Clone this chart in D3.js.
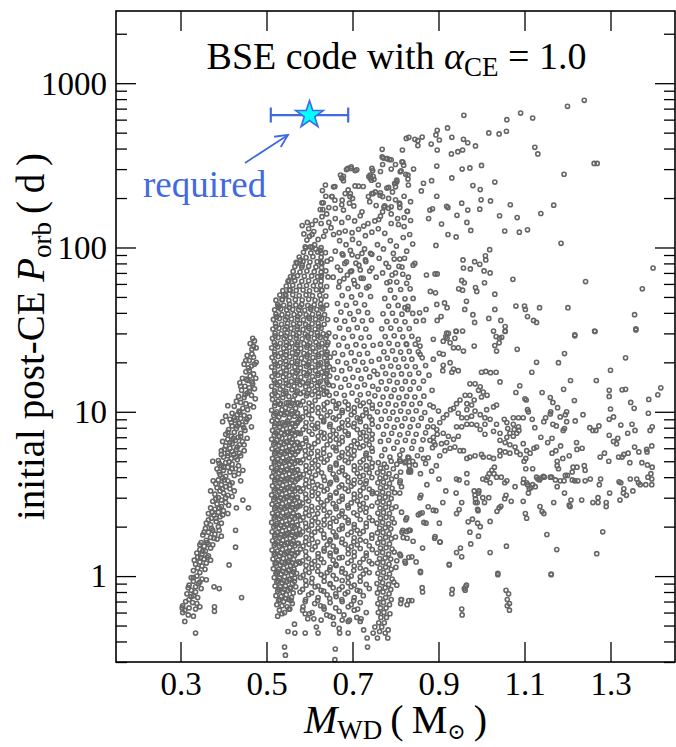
<!DOCTYPE html>
<html>
<head>
<meta charset="utf-8">
<script src="https://cdn.jsdelivr.net/npm/d3@7"></script>
<style>
  body { margin: 0; background: #fff; }
  text { font-family: "Liberation Serif", "DejaVu Serif", serif; }
</style>
</head>
<body>
<svg id="chart" width="676" height="747"></svg>
<script>
// [WD mass (Msun), initial post-CE orbital period (d)], region by region

// He-core white dwarfs, the narrow diagonal band on the left
const heBand = [
  [.468,28],[.472,27],[.462,26],[.476,24.5],[.466,24],
  [.455,22],[.470,21.5],[.460,20.5],[.476,20],[.448,19.5],[.465,19],[.458,18.5],
  [.452,17.5],[.470,17],[.462,16.5],[.444,16],[.475,16],[.456,15.5],[.466,15.2],[.438,15],
  [.450,14.3],[.460,14],[.472,13.8],[.442,13.5],[.455,13],[.465,12.6],[.435,12.4],[.448,12.2],[.474,12],
  [.430,11.6],[.440,11.4],[.452,11.2],[.462,11],[.470,10.7],[.425,10.8],[.445,10.5],[.456,10.3],[.410,10.9],[.436,10.1],
  [.420,9.8],[.432,9.6],[.448,9.5],[.460,9.3],[.440,9.1],[.415,9.0],[.427,8.9],[.452,8.7],[.398,8.7],[.436,8.5],[.444,8.3],[.420,8.2],[.465,8.1],
  [.430,7.9],[.412,7.8],[.450,7.7],[.425,7.5],[.440,7.4],[.405,7.3],[.418,7.1],[.434,7.0],[.455,6.9],[.410,6.8],[.428,6.7],[.444,6.6],[.398,6.6],
  [.420,6.4],[.437,6.3],[.405,6.2],[.415,6.0],[.430,5.9],[.448,5.8],[.395,5.8],[.410,5.6],[.424,5.5],[.440,5.4],[.400,5.3],[.418,5.2],[.432,5.1],[.388,5.05],
  [.405,4.9],[.420,4.8],[.395,4.7],[.410,4.6],[.428,4.5],[.385,4.5],[.400,4.4],[.415,4.3],[.435,4.2],[.392,4.15],[.405,4.05],[.375,5.0],[.445,4.4],
  [.398,3.95],[.388,3.85],[.410,3.8],[.376,3.8],[.420,3.7],[.395,3.6],[.405,3.5],[.385,3.45],[.415,3.4],[.440,3.8],[.392,3.3],[.400,3.2],[.380,3.15],[.410,3.1],[.388,3.0],[.420,3.05],
  [.395,2.9],[.375,2.85],[.405,2.8],[.385,2.75],[.395,2.65],[.370,2.6],[.380,2.55],[.400,2.5],[.388,2.45],[.365,2.4],[.378,2.35],[.392,2.3],[.372,2.25],[.458,2.6],[.445,2.9],[.430,2.6],[.410,2.4],
  [.383,2.15],[.360,2.1],[.370,2.05],[.388,2.0],[.358,1.95],[.375,1.9],[.365,1.85],[.380,1.8],[.352,1.78],[.370,1.72],[.360,1.65],[.385,1.68],[.348,1.6],[.365,1.56],[.355,1.52],[.428,1.9],[.428,1.5],[.395,1.75],
  [.370,1.48],[.345,1.45],[.358,1.42],[.350,1.36],[.365,1.33],[.340,1.3],[.355,1.27],[.345,1.22],[.360,1.2],[.335,1.18],[.350,1.15],[.340,1.12],[.357,1.1],[.413,1.17],[.370,1.25],
  [.330,1.08],[.345,1.05],[.338,1.0],[.325,0.98],[.350,0.96],[.330,0.93],[.342,0.9],[.320,0.88],[.335,0.86],[.348,0.84],[.325,0.82],[.378,0.86],[.390,0.84],[.360,0.95],
  [.315,0.78],[.330,0.76],[.340,0.74],[.320,0.72],[.312,0.7],[.328,0.69],[.338,0.68],[.305,0.66],[.320,0.64],[.335,0.63],[.310,0.62],[.345,0.65],[.305,0.6],[.318,0.58],[.330,0.57],[.310,0.53],[.335,0.45],[.379,0.61],[.442,0.74],[.379,0.65],[.304,0.64],
  [.405,9.4],[.438,9.9],[.455,9.0],[.425,9.2],[.418,8.6],[.447,8.0],[.432,8.2],[.410,7.5],[.440,7.1],[.423,6.9],[.448,6.3],[.415,6.5],[.432,6.1],[.402,5.9],[.420,5.75],[.437,5.6],[.395,5.5],[.410,5.4],[.428,5.3],
  [.390,4.85],[.413,4.95],[.435,4.7],[.400,4.6],[.420,4.5],[.390,4.3],[.425,4.1],[.402,3.85],[.382,3.65],[.415,3.6],[.398,3.4],[.425,3.3],[.370,3.3],[.405,3.0],[.382,2.95],[.412,2.7],[.390,2.6],
  [.374,2.45],[.398,2.35],[.382,2.25],[.365,2.2],[.395,2.1],[.372,1.95],[.390,1.9],[.355,1.85],[.378,1.7],[.362,1.6],[.345,1.55],[.375,1.55],[.352,1.42],[.338,1.38],[.362,1.3],[.347,1.3],[.332,1.25],
  [.450,12.7],[.460,13.3],[.440,14.3],[.468,14.8],[.453,15.8],[.460,17.8],[.472,19.5],[.452,20.5],[.466,22.5],[.470,25],[.325,0.75],[.335,0.8],[.318,0.85],[.345,0.92],[.330,0.98]
];

// the solid stripe at the left edge of the CO white dwarfs
const coreLeft = [
  [.514,11.9],[.527,11.6],[.538,12.2],[.551,11.4],[.562,11.8],[.574,11.3],
  [.519,10.9],[.531,11.1],[.544,10.6],[.556,10.9],[.568,10.5],
  [.512,10.2],[.524,10.0],[.536,10.3],[.548,9.9],[.559,10.1],[.572,9.8],
  [.517,9.5],[.529,9.3],[.541,9.6],[.553,9.2],[.565,9.4],[.577,9.1],
  [.513,8.8],[.525,8.9],[.537,8.6],[.549,8.8],[.561,8.5],[.573,8.7],
  [.519,8.2],[.531,8.1],[.543,8.3],[.555,8.0],[.567,8.2],
  [.514,7.7],[.526,7.6],[.538,7.8],[.550,7.5],[.562,7.7],[.575,7.4],
  [.518,7.2],[.530,7.1],[.542,7.3],[.554,7.0],[.566,7.2],
  [.512,6.8],[.524,6.7],[.536,6.9],[.548,6.6],[.560,6.8],[.572,6.5],
  [.517,6.35],[.529,6.25],[.541,6.4],[.553,6.2],[.565,6.3],[.577,6.1],
  [.513,5.95],[.525,5.85],[.537,6.0],[.549,5.8],[.561,5.9],[.573,5.75],
  [.519,5.55],[.531,5.5],[.543,5.6],[.555,5.45],[.567,5.52],
  [.514,5.2],[.526,5.15],[.538,5.25],[.550,5.1],[.562,5.2],[.574,5.05],
  [.518,4.88],[.530,4.82],[.542,4.92],[.554,4.78],[.566,4.86],
  [.512,4.58],[.524,4.52],[.536,4.62],[.548,4.48],[.560,4.56],[.572,4.45],
  [.517,4.3],[.529,4.24],[.541,4.33],[.553,4.2],[.565,4.28],[.577,4.17],
  [.513,4.03],[.525,3.97],[.537,4.06],[.549,3.94],[.561,4.01],[.573,3.91],
  [.519,3.78],[.531,3.73],[.543,3.81],[.555,3.7],[.567,3.76],
  [.514,3.54],[.526,3.5],[.538,3.57],[.550,3.47],[.562,3.53],[.574,3.44],
  [.518,3.32],[.530,3.28],[.542,3.35],[.554,3.26],[.566,3.3],
  [.512,3.12],[.524,3.08],[.536,3.14],[.548,3.05],[.560,3.1],[.572,3.02],
  [.517,2.92],[.529,2.88],[.541,2.95],[.553,2.86],[.565,2.9],[.577,2.83],
  [.513,2.74],[.525,2.7],[.537,2.76],[.549,2.68],[.561,2.72],[.573,2.66],
  [.519,2.57],[.531,2.54],[.543,2.59],[.555,2.52],[.567,2.56],
  [.514,2.41],[.526,2.38],[.538,2.43],[.550,2.36],[.562,2.4],[.574,2.34],
  [.518,2.26],[.530,2.23],[.542,2.28],[.554,2.21],[.566,2.25],
  [.512,2.12],[.524,2.09],[.536,2.14],[.548,2.07],[.560,2.11],[.572,2.05],
  [.517,1.99],[.529,1.96],[.541,2.0],[.553,1.94],[.565,1.98],[.577,1.92],
  [.513,1.86],[.525,1.84],[.537,1.88],[.549,1.82],[.561,1.85],[.573,1.8],
  [.519,1.75],[.531,1.72],[.543,1.76],[.555,1.7],[.567,1.74],
  [.514,1.64],[.526,1.62],[.538,1.65],[.550,1.6],[.562,1.63],[.574,1.58],
  [.518,1.54],[.530,1.52],[.542,1.55],[.554,1.5],[.566,1.53],
  [.513,1.44],[.525,1.42],[.537,1.45],[.549,1.41],[.561,1.43],[.573,1.39],
  [.518,1.35],[.530,1.33],[.542,1.36],[.554,1.32],[.566,1.34],
  [.515,1.27],[.527,1.25],[.539,1.28],[.551,1.24],[.563,1.26],[.575,1.22],
  [.520,1.19],[.532,1.17],[.544,1.2],[.556,1.16],[.568,1.18],
  [.516,1.11],[.528,1.1],[.540,1.12],[.552,1.09],[.564,1.1],
  [.522,1.04],[.534,1.03],[.546,1.05],[.558,1.02],[.570,1.04],
  [.518,0.98],[.530,0.97],[.542,0.99],[.554,0.96],[.566,0.97],
  [.524,0.92],[.536,0.91],[.548,0.93],[.560,0.9],
  [.520,0.87],[.532,0.86],[.544,0.87],[.556,0.85],[.568,0.86],
  [.526,0.81],[.538,0.8],[.550,0.82],[.562,0.79],
  [.522,0.76],[.534,0.75],[.546,0.77],[.558,0.74],
  [.528,0.71],[.540,0.7],[.552,0.72],
  [.524,0.67],[.536,0.66],[.548,0.65],[.560,0.68],
  [.530,0.62],[.542,0.6],[.526,0.57],[.554,0.63],
  [.520,11.3],[.533,11.2],[.546,11.35],[.559,11.25],[.571,11.3],
  [.521,9.75],[.534,9.7],[.547,9.8],[.560,9.72],[.572,9.78],
  [.520,8.5],[.533,8.45],[.546,8.55],[.559,8.48],[.571,8.52],
  [.521,7.45],[.534,7.42],[.547,7.5],[.560,7.43],[.572,7.47],
  [.520,6.5],[.533,6.48],[.546,6.54],[.559,6.47],[.571,6.51],
  [.521,5.7],[.534,5.68],[.547,5.73],[.560,5.67],[.572,5.71],
  [.520,5.0],[.533,4.98],[.546,5.02],[.559,4.97],[.571,5.01],
  [.521,4.4],[.534,4.38],[.547,4.42],[.560,4.37],[.572,4.41],
  [.520,3.88],[.533,3.86],[.546,3.9],[.559,3.85],[.571,3.89],
  [.521,3.4],[.534,3.39],[.547,3.42],[.560,3.38],[.572,3.41],
  [.520,3.0],[.533,2.99],[.546,3.01],[.559,2.98],[.571,3.0],
  [.521,2.63],[.534,2.62],[.547,2.64],[.560,2.61],[.572,2.63],
  [.520,2.32],[.533,2.31],[.546,2.33],[.559,2.3],[.571,2.32],
  [.521,2.04],[.534,2.03],[.547,2.05],[.560,2.02],[.572,2.04],
  [.520,1.79],[.533,1.78],[.546,1.8],[.559,1.78],[.571,1.79],
  [.521,1.58],[.534,1.57],[.547,1.59],[.560,1.57],[.572,1.58],
  [.520,1.38],[.533,1.38],[.546,1.39],[.559,1.37],[.571,1.38],
  [.523,1.21],[.536,1.21],[.549,1.22],[.561,1.2],
  [.525,1.07],[.538,1.07],[.551,1.08],[.563,1.06],
  [.527,0.94],[.540,0.94],[.553,0.95],[.565,0.93],
  [.529,0.83],[.542,0.83],[.555,0.84],
  [.531,0.72],[.545,0.73],[.557,0.71]
];

// dense upper part of the CO region, 12 to 100 d
const coreUpper = [
  [.513,12.7],[.526,12.5],[.539,12.8],[.552,12.4],[.566,12.6],[.579,12.9],[.593,12.5],[.606,12.7],[.621,12.4],[.634,12.8],[.646,12.6],
  [.519,13.4],[.532,13.7],[.545,13.3],[.559,13.6],[.572,13.4],[.586,13.2],[.599,13.6],[.613,13.4],[.627,13.7],[.640,13.3],
  [.512,14.3],[.525,14.6],[.538,14.2],[.551,14.5],[.564,14.3],[.578,14.6],[.591,14.2],[.605,14.5],[.618,14.4],[.632,14.1],[.645,14.6],
  [.518,15.5],[.531,15.2],[.545,15.6],[.558,15.3],[.571,15.5],[.584,15.1],[.598,15.4],[.611,15.6],[.625,15.3],[.639,15.5],
  [.513,16.4],[.526,16.7],[.539,16.3],[.553,16.6],[.566,16.4],[.580,16.2],[.593,16.6],[.607,16.4],[.620,16.7],[.634,16.3],[.647,16.5],
  [.519,17.7],[.533,17.4],[.546,17.8],[.560,17.5],[.573,17.7],[.587,17.3],[.600,17.6],[.614,17.8],[.628,17.4],[.641,17.7],
  [.512,18.7],[.526,19.0],[.539,18.6],[.552,18.9],[.566,18.7],[.579,18.5],[.593,18.9],[.606,18.7],[.620,19.0],[.633,18.6],[.646,18.8],
  [.518,20.2],[.532,19.9],[.545,20.3],[.559,20.0],[.572,20.2],[.586,19.8],[.599,20.1],[.613,20.3],[.626,19.9],[.640,20.2],
  [.513,21.4],[.527,21.7],[.540,21.3],[.554,21.6],[.567,21.4],[.581,21.2],[.594,21.6],[.608,21.4],[.621,21.7],[.635,21.3],[.648,21.5],
  [.519,23.1],[.533,22.8],[.546,23.2],[.560,22.9],[.573,23.1],[.587,22.7],[.601,23.0],[.614,23.2],[.628,22.8],[.641,23.1],
  [.512,24.5],[.526,24.8],[.540,24.4],[.553,24.7],[.567,24.5],[.580,24.3],[.594,24.7],[.608,24.5],[.622,24.8],[.636,24.4],
  [.518,26.4],[.532,26.1],[.546,26.5],[.559,26.2],[.573,26.4],[.587,26.0],[.601,26.3],[.615,26.5],[.629,26.1],[.643,26.4],
  [.514,28.0],[.527,28.3],[.541,27.9],[.555,28.2],[.569,28.0],[.583,27.8],[.597,28.2],[.611,28.0],[.625,28.3],[.638,27.9],
  [.520,30.1],[.534,29.8],[.548,30.2],[.562,29.9],[.576,30.1],[.590,29.7],[.604,30.0],[.618,30.2],[.632,29.8],[.645,30.1],
  [.515,31.9],[.529,32.2],[.543,31.8],[.557,32.1],[.571,31.9],[.585,31.7],[.599,32.1],[.613,31.9],[.627,32.2],
  [.521,34.4],[.535,34.1],[.549,34.5],[.563,34.2],[.577,34.4],[.591,34.0],[.606,34.3],[.620,34.5],[.634,34.1],
  [.516,36.5],[.530,36.9],[.544,36.4],[.558,36.7],[.572,36.5],[.586,36.3],[.600,36.8],[.614,36.6],[.628,36.9],[.642,36.4],
  [.522,39.3],[.536,39.0],[.550,39.5],[.564,39.1],[.578,39.4],[.592,38.9],[.607,39.2],[.621,39.5],[.635,39.0],
  [.519,41.8],[.533,42.2],[.547,41.7],[.561,42.0],[.575,41.8],[.589,41.5],[.603,42.1],[.617,41.9],[.631,42.3],
  [.526,44.9],[.540,44.5],[.554,45.1],[.568,44.7],[.582,45.0],[.596,44.4],[.611,44.8],[.626,45.1],[.640,44.6],
  [.522,47.8],[.537,48.3],[.552,47.6],[.567,48.1],[.583,47.9],[.598,48.4],[.613,47.7],[.627,48.2],
  [.531,51.3],[.545,50.8],[.561,51.5],[.576,51.0],[.592,51.4],[.607,50.9],[.624,51.2],[.638,50.6],
  [.538,54.6],[.553,55.2],[.569,54.8],[.585,55.1],[.600,54.5],[.616,55.3],[.628,54.9],
  [.546,58.3],[.561,58.9],[.577,58.2],[.593,58.7],[.609,58.4],[.626,58.8],[.640,57.9],
  [.550,62.1],[.566,62.9],[.582,62.3],[.598,62.7],[.614,62.0],[.627,62.6],
  [.556,66.5],[.572,67.3],[.588,66.8],[.605,67.1],[.619,66.4],[.628,67.5],[.643,66.2],
  [.562,71.5],[.578,70.9],[.594,71.8],[.611,71.2],[.627,70.7],[.638,72.0],
  [.566,76.5],[.582,75.8],[.598,76.9],[.615,76.2],[.628,75.5],
  [.569,81.2],[.585,82.3],[.601,81.6],[.618,82.0],[.627,81.1],[.641,82.5],
  [.576,87.5],[.592,86.8],[.608,87.9],[.627,87.2],
  [.586,93.5],[.603,92.6],[.619,93.8],[.628,92.1],[.637,93.0],
  [.591,99.2],[.606,100.5],[.627,99.8],[.612,104],
  [.520,13.0],[.545,12.95],[.570,13.05],[.595,12.9],[.620,13.0],[.640,13.1],
  [.521,15.0],[.546,14.9],[.571,15.1],[.596,14.95],[.621,15.0],[.641,15.05],
  [.520,17.1],[.545,17.0],[.570,17.2],[.595,17.05],[.620,17.1],[.640,17.15],
  [.521,19.5],[.546,19.4],[.571,19.6],[.596,19.45],[.621,19.5],[.641,19.55],
  [.520,22.3],[.545,22.2],[.570,22.4],[.595,22.25],[.620,22.3],[.640,22.35],
  [.521,25.5],[.546,25.4],[.571,25.6],[.596,25.45],[.621,25.5],[.641,25.55],
  [.520,29.0],[.545,28.9],[.570,29.1],[.595,28.95],[.620,29.0],[.640,29.1],
  [.522,33.0],[.547,32.9],[.572,33.1],[.597,32.95],[.622,33.0],
  [.523,37.8],[.548,37.7],[.573,37.9],[.598,37.75],[.623,37.8],
  [.528,43.3],[.553,43.2],[.578,43.4],[.603,43.25],[.628,43.3]
];

// middle of the CO region below 12 d
const coreMid = [
  [.585,11.6],[.599,11.3],[.613,11.7],[.641,11.4],[.655,11.6],[.668,11.2],[.683,11.5],[.711,11.7],[.725,11.3],[.739,11.5],
  [.591,10.5],[.606,10.2],[.620,10.6],[.634,10.3],[.662,10.5],[.676,10.2],[.690,10.4],[.704,10.6],[.731,10.3],[.746,10.5],
  [.584,9.3],[.598,9.6],[.627,9.3],[.641,9.5],[.655,9.2],[.669,9.4],[.697,9.6],[.711,9.2],[.724,9.5],[.740,9.3],
  [.592,8.6],[.606,8.3],[.619,8.5],[.633,8.7],[.648,8.4],[.676,8.6],[.690,8.3],[.704,8.5],[.718,8.7],[.746,8.4],
  [.585,7.8],[.599,7.6],[.613,7.9],[.627,7.5],[.655,7.7],[.669,7.9],[.683,7.6],[.711,7.8],[.725,7.5],[.739,7.7],
  [.591,6.9],[.620,7.1],[.634,6.9],[.648,7.2],[.662,6.8],[.676,7.0],[.690,7.2],[.718,6.9],[.732,7.1],[.745,6.8],
  [.584,6.4],[.598,6.2],[.612,6.4],[.641,6.3],[.655,6.1],[.669,6.4],[.697,6.2],[.711,6.4],[.725,6.2],[.739,6.3],
  [.590,5.8],[.604,5.6],[.619,5.75],[.633,5.6],[.662,5.8],[.676,5.65],[.690,5.55],[.704,5.8],[.732,5.6],[.746,5.75],
  [.585,5.1],[.599,5.25],[.613,5.05],[.627,5.2],[.641,5.1],[.669,5.25],[.683,5.05],[.697,5.2],[.725,5.1],[.740,5.2],
  [.592,4.7],[.606,4.55],[.620,4.72],[.648,4.6],[.662,4.75],[.676,4.58],[.704,4.68],[.718,4.55],[.732,4.7],[.745,4.6],
  [.586,4.15],[.600,4.28],[.614,4.12],[.628,4.25],[.655,4.18],[.669,4.3],[.683,4.12],[.711,4.22],[.725,4.1],[.739,4.26],
  [.592,3.85],[.607,3.74],[.635,3.82],[.649,3.72],[.663,3.86],[.690,3.76],[.704,3.84],[.718,3.72],[.732,3.8],
  [.585,3.4],[.599,3.5],[.613,3.42],[.627,3.52],[.641,3.38],[.669,3.48],[.683,3.4],[.697,3.52],[.725,3.44],[.739,3.38],
  [.591,3.16],[.606,3.08],[.620,3.18],[.648,3.1],[.662,3.2],[.676,3.06],[.704,3.15],[.718,3.08],[.746,3.18],
  [.584,2.78],[.598,2.86],[.627,2.8],[.641,2.88],[.655,2.76],[.669,2.85],[.697,2.79],[.711,2.87],[.725,2.77],
  [.592,2.58],[.606,2.5],[.620,2.6],[.634,2.52],[.662,2.57],[.676,2.49],[.690,2.6],[.718,2.53],[.732,2.59],
  [.585,2.27],[.599,2.34],[.613,2.26],[.641,2.33],[.655,2.25],[.669,2.32],[.683,2.28],[.711,2.35],[.739,2.27],
  [.591,2.1],[.605,2.04],[.620,2.12],[.634,2.05],[.648,2.1],[.676,2.03],[.690,2.11],[.704,2.06],[.732,2.1],
  [.584,1.86],[.598,1.91],[.612,1.85],[.627,1.9],[.655,1.86],[.669,1.92],[.697,1.85],[.711,1.9],[.725,1.87],
  [.592,1.72],[.606,1.67],[.634,1.71],[.648,1.66],[.662,1.73],[.676,1.68],[.704,1.71],[.718,1.66],[.745,1.7],
  [.585,1.52],[.599,1.56],[.613,1.51],[.641,1.55],[.655,1.52],[.683,1.56],[.697,1.51],[.711,1.55],[.739,1.53],
  [.591,1.41],[.620,1.37],[.634,1.42],[.648,1.38],[.662,1.41],[.690,1.37],[.704,1.4],[.732,1.38],
  [.584,1.24],[.598,1.28],[.612,1.23],[.627,1.27],[.655,1.25],[.669,1.29],[.697,1.24],[.725,1.27],[.739,1.23],
  [.592,1.16],[.606,1.12],[.620,1.15],[.648,1.13],[.662,1.16],[.676,1.11],[.704,1.15],[.718,1.12],
  [.585,1.01],[.599,1.05],[.627,1.02],[.641,1.05],[.655,1.01],[.683,1.04],[.697,1.0],[.725,1.03],[.739,1.05],
  [.591,0.94],[.605,0.91],[.634,0.93],[.648,0.9],[.676,0.94],[.690,0.91],[.718,0.93],
  [.584,0.83],[.613,0.86],[.627,0.82],[.655,0.85],[.669,0.83],[.697,0.86],[.711,0.82],[.739,0.84],
  [.598,0.77],[.620,0.74],[.641,0.77],[.662,0.75],[.683,0.78],[.704,0.74],[.725,0.76],
  [.590,0.7],[.612,0.68],[.648,0.69],[.676,0.7],[.697,0.67],[.718,0.69],
  [.584,0.62],[.606,0.6],[.634,0.63],[.669,0.61],[.704,0.62],[.732,0.6],
  [.596,0.55],[.627,0.54],[.655,0.56],[.690,0.53],[.720,0.55],
  [.579,11.0],[.606,10.9],[.634,11.1],[.662,10.95],[.690,11.05],[.718,10.9],[.746,11.0],
  [.592,9.95],[.620,9.85],[.648,10.0],[.676,9.9],[.704,9.95],[.732,9.85],
  [.578,8.95],[.605,9.05],[.633,8.9],[.661,9.0],[.689,8.9],[.717,9.05],[.745,8.95],
  [.591,8.1],[.619,8.05],[.647,8.15],[.675,8.05],[.703,8.1],[.731,8.15],
  [.579,7.35],[.606,7.3],[.634,7.4],[.662,7.3],[.690,7.35],[.718,7.4],[.746,7.3],
  [.592,6.65],[.620,6.6],[.648,6.7],[.676,6.6],[.704,6.65],[.732,6.7],
  [.578,6.0],[.605,6.05],[.633,5.95],[.661,6.02],[.689,5.97],[.717,6.05],[.745,6.0],
  [.591,5.42],[.619,5.38],[.647,5.45],[.675,5.38],[.703,5.42],[.731,5.45],
  [.579,4.9],[.606,4.88],[.634,4.93],[.662,4.87],[.690,4.91],[.718,4.94],[.746,4.88],
  [.592,4.42],[.620,4.4],[.648,4.45],[.676,4.39],[.704,4.43],[.732,4.46],
  [.578,4.0],[.605,3.98],[.633,4.02],[.661,3.97],[.689,4.01],[.717,4.03],[.745,3.98],
  [.591,3.62],[.619,3.6],[.647,3.64],[.675,3.59],[.703,3.63],[.731,3.65],
  [.579,3.28],[.606,3.26],[.634,3.3],[.662,3.25],[.690,3.29],[.718,3.31],[.746,3.27],
  [.592,2.97],[.620,2.95],[.648,2.99],[.676,2.94],[.704,2.98],[.732,3.0],
  [.578,2.68],[.605,2.66],[.633,2.7],[.661,2.65],[.689,2.69],[.717,2.71],[.745,2.67],
  [.591,2.42],[.619,2.4],[.647,2.44],[.675,2.39],[.703,2.43],[.731,2.45],
  [.579,2.19],[.606,2.17],[.634,2.2],[.662,2.16],[.690,2.19],[.718,2.21],[.746,2.18],
  [.592,1.98],[.620,1.96],[.648,1.99],[.676,1.95],[.704,1.98],[.732,2.0],
  [.578,1.79],[.605,1.78],[.633,1.8],[.661,1.77],[.689,1.79],[.717,1.81],[.745,1.78],
  [.591,1.62],[.619,1.61],[.647,1.63],[.675,1.6],[.703,1.62],[.731,1.63],
  [.579,1.46],[.606,1.45],[.634,1.47],[.662,1.44],[.690,1.46],[.718,1.47],[.746,1.45],
  [.592,1.32],[.620,1.31],[.648,1.33],[.676,1.3],[.704,1.32],[.732,1.33],
  [.578,1.2],[.605,1.19],[.633,1.21],[.661,1.18],[.689,1.2],[.717,1.21],[.745,1.19],
  [.591,1.08],[.619,1.07],[.647,1.09],[.675,1.06],[.703,1.08],[.731,1.09],
  [.579,0.98],[.606,0.97],[.634,0.99],[.662,0.96],[.690,0.98],[.718,0.99],
  [.592,0.88],[.620,0.87],[.648,0.89],[.676,0.86],[.704,0.88],[.732,0.89],
  [.578,0.8],[.605,0.79],[.633,0.81],[.661,0.78],[.689,0.8],[.717,0.81],
  [.591,0.72],[.619,0.71],[.647,0.73],[.675,0.72],[.703,0.71],
  [.585,0.65],[.626,0.66],[.661,0.64],[.690,0.65],[.712,0.63],
  [.600,0.59],[.640,0.58],[.680,0.58]
];

// the narrow vertical stripe near 0.77 Msun
const stripe77 = [
  [.760,4.9],[.774,4.8],[.790,5.0],[.765,4.55],[.779,4.6],[.795,4.5],
  [.758,4.25],[.771,4.3],[.785,4.2],[.764,3.95],[.777,4.0],[.791,3.9],[.802,4.05],
  [.759,3.7],[.772,3.72],[.786,3.66],[.765,3.45],[.778,3.48],[.792,3.42],
  [.757,3.2],[.770,3.24],[.784,3.18],[.798,3.22],[.763,3.0],[.776,3.02],[.790,2.97],
  [.758,2.8],[.771,2.82],[.785,2.78],[.764,2.6],[.777,2.62],[.791,2.58],[.801,2.64],
  [.759,2.42],[.772,2.44],[.786,2.4],[.765,2.26],[.778,2.28],[.792,2.24],
  [.757,2.1],[.770,2.12],[.784,2.08],[.797,2.11],[.763,1.96],[.776,1.97],[.789,1.94],
  [.758,1.83],[.771,1.84],[.785,1.81],[.764,1.7],[.777,1.72],[.790,1.69],[.800,1.73],
  [.759,1.59],[.772,1.6],[.786,1.57],[.765,1.48],[.778,1.49],[.792,1.46],
  [.757,1.38],[.770,1.39],[.784,1.36],[.797,1.4],[.763,1.28],[.776,1.29],[.789,1.27],
  [.758,1.2],[.771,1.21],[.785,1.18],[.764,1.12],[.777,1.13],[.790,1.1],[.801,1.13],
  [.759,1.04],[.772,1.05],[.786,1.03],[.765,0.97],[.778,0.98],[.792,0.96],
  [.757,0.9],[.770,0.91],[.784,0.89],[.796,0.92],[.763,0.84],[.776,0.85],[.789,0.83],
  [.758,0.79],[.771,0.8],[.785,0.78],[.764,0.73],[.777,0.74],[.790,0.72],
  [.759,0.68],[.772,0.69],[.786,0.67],[.765,0.64],[.778,0.64],
  [.760,0.6],[.773,0.6],[.787,0.59],[.766,0.56],[.779,0.56],
  [.761,0.52],[.774,0.52],[.768,0.49],[.763,0.46],[.776,0.45]
];

// right half of the CO region, 4 to 100 d
const coreRight = [
  [.662,12.9],[.681,12.6],[.699,13.0],[.718,12.7],[.737,12.9],[.752,12.5],
  [.655,14.4],[.673,14.1],[.692,14.5],[.711,14.2],[.728,14.6],[.747,14.3],
  [.664,16.1],[.683,15.8],[.701,16.2],[.720,15.9],[.740,16.3],
  [.656,18.1],[.675,17.8],[.694,18.3],[.713,17.9],[.731,18.2],[.750,17.7],
  [.666,20.2],[.686,19.8],[.705,20.4],[.724,20.0],[.744,20.3],
  [.658,22.8],[.677,22.3],[.697,22.9],[.716,22.4],[.735,22.7],
  [.668,25.5],[.688,25.0],[.708,25.6],[.727,25.1],[.748,25.4],
  [.660,28.6],[.679,28.1],[.700,28.8],[.720,28.2],[.739,28.5],
  [.670,32.3],[.691,31.7],[.711,32.5],[.731,31.9],
  [.662,36.3],[.682,35.6],[.703,36.5],[.723,35.8],[.744,36.2],
  [.673,40.5],[.694,39.6],[.714,40.8],[.735,40.1],
  [.665,45.6],[.686,44.5],[.707,45.9],[.728,44.8],
  [.676,51.0],[.698,50.0],[.719,51.5],[.742,50.3],
  [.668,57.5],[.690,56.3],[.712,57.9],[.733,56.8],
  [.680,64.5],[.703,63.2],[.725,64.9],
  [.672,72.6],[.695,71.2],[.718,73.0],[.740,71.8],
  [.686,81.7],[.708,80.3],[.731,82.1],
  [.676,91.5],[.699,90.2],[.722,92.0],[.745,90.8],
  [.812,4.3],[.835,4.4],[.858,4.2],[.884,4.35],
  [.803,4.8],[.822,4.9],[.846,4.75],[.870,4.85],[.895,4.7],
  [.768,5.4],[.787,5.3],[.810,5.45],[.829,5.3],[.851,5.4],[.876,5.25],
  [.775,5.9],[.796,6.0],[.816,5.85],[.838,6.0],[.860,5.9],[.886,6.05],
  [.765,6.6],[.784,6.7],[.804,6.55],[.823,6.7],[.842,6.6],[.864,6.75],[.889,6.55],
  [.772,7.3],[.791,7.4],[.810,7.25],[.829,7.4],[.848,7.3],[.870,7.45],[.897,7.3],
  [.760,8.1],[.779,8.2],[.797,8.05],[.815,8.2],[.834,8.1],[.853,8.25],[.875,8.1],
  [.767,9.0],[.786,9.1],[.804,8.95],[.822,9.1],[.840,9.0],[.860,9.15],[.882,8.9],
  [.758,10.0],[.776,10.1],[.794,9.95],[.812,10.1],[.830,10.0],[.848,10.15],[.868,9.9],
  [.764,11.1],[.783,11.2],[.801,11.0],[.819,11.2],[.838,11.1],[.857,11.25],[.880,11.0],
  [.771,12.3],[.790,12.4],[.808,12.2],[.826,12.4],[.845,12.3],[.866,12.45],
  [.760,13.7],[.779,13.8],[.797,13.6],[.815,13.8],[.834,13.7],[.855,13.9],[.885,13.5],
  [.767,15.2],[.786,15.4],[.804,15.1],[.823,15.3],[.842,15.2],[.865,15.4],
  [.758,16.9],[.777,17.1],[.795,16.8],[.814,17.0],[.833,16.9],[.854,17.2],[.878,16.7],
  [.770,18.8],[.789,19.0],[.807,18.7],[.826,18.9],[.846,18.8],[.870,19.1],
  [.762,20.9],[.781,21.2],[.800,20.8],[.819,21.0],[.838,20.9],[.862,21.3],
  [.773,23.2],[.793,23.5],[.812,23.1],[.832,23.3],[.853,23.2],
  [.765,25.8],[.785,26.1],[.805,25.7],[.825,25.9],[.846,25.8],
  [.776,28.7],[.797,29.0],[.817,28.6],[.838,28.8],
  [.768,32.0],[.789,32.3],[.810,31.8],[.832,32.1],
  [.780,35.5],[.801,35.8],[.822,35.3],[.848,35.6],
  [.771,39.5],[.793,39.8],[.815,39.3],[.840,39.7],
  [.784,44.0],[.806,44.4],[.829,43.8],[.775,49.0],[.798,49.5],[.822,48.7],
  [.788,55.0],[.812,55.5],[.780,61.0],[.803,61.6],[.826,60.5],
  [.792,68.0],[.817,68.7],[.784,76.0],[.808,76.8],[.797,85.0],[.821,86.0]
];

// upper arm of the CO region, above ~50 d
const upperArm = [
  [.637,240],[.656,234],[.676,263],[.672,276],[.679,271],[.697,310],[.689,303],[.710,297],[.714,236],
  [.741,276],[.744,257],[.738,270],[.745,303],[.769,356],[.780,348],[.786,343],[.815,332],[.819,317],
  [.829,276],[.811,289],[.803,251],[.652,204],[.659,194],[.676,194],[.683,213],[.695,213],[.700,199],
  [.693,186],[.703,179],[.679,169],[.660,173],[.722,165],[.745,213],[.753,218],[.765,215],[.770,204],
  [.784,199],[.793,218],[.800,234],[.798,245],[.809,186],[.827,166],[.784,173],[.775,179],[.765,155],
  [.761,148],[.752,145],[.736,140],[.726,135],[.714,129],[.699,123],[.683,126],[.669,123],[.656,120],
  [.637,126],[.629,154],[.629,187],[.631,170],[.627,140],[.633,117],[.625,96],[.629,80],[.627,66],
  [.629,55],[.598,130],[.606,120],[.594,111],[.590,101],[.602,101],[.614,98],[.579,84],[.571,80],
  [.583,78],[.563,66],[.552,63],[.555,55],[.544,52],[.536,48],[.528,44],[.524,38],
  [.660,150],[.675,142],[.690,152],[.705,145],[.718,156],[.650,132],[.670,110],[.685,104],[.700,112],
  [.715,106],[.730,118],[.745,124],[.760,130],[.775,122],[.790,140],[.805,150],[.820,134],[.835,146],
  [.660,95],[.678,90],[.695,96],[.712,88],[.728,98],[.742,92],[.758,104],[.772,98],[.788,110],[.802,102],
  [.818,115],[.833,120],[.650,85],[.665,76],[.682,80],[.698,72],[.715,78],[.730,84],[.745,75],[.762,86],
  [.778,80],[.795,92],[.810,85],[.826,95],[.840,105],[.655,66],[.670,62],[.688,68],[.705,60],[.720,65],
  [.738,58],[.755,66],[.770,70],[.787,62],[.800,70],[.815,76],[.830,66],[.845,80],
  [.740,190],[.755,180],[.770,165],[.790,160],[.810,175],[.820,205],[.835,190],[.800,195],[.780,230],
  [.760,240],[.750,260],[.765,290],[.790,300],[.800,320],[.770,320],[.830,240],[.842,300],
  [.632,187],[.625,170],[.645,175],[.614,146],[.606,138],[.583,136],[.595,142],[.610,125],[.620,112],
  [.600,117],[.587,121],[.640,160],[.645,142],[.638,205],[.630,222],
  [.769,396],[.772,350],[.781,347],[.790,342],[.817,331],[.813,293],[.824,279],[.829,261],[.816,392],
  [.825,461],[.831,468],[.810,183],[.828,166],[.820,152],[.790,177],[.773,176],[.800,247],[.803,257],
  [.784,232],[.807,138],[.828,42],[.841,78],[.834,56],[.841,49],[.822,43],
  [.686,298],[.696,303],[.706,294],[.675,265],[.679,255],[.741,265],[.747,294],[.748,271],[.659,235],
  [.706,237],[.725,235],[.652,204],[.675,182],[.690,224],[.694,204],[.737,204],[.748,213],[.764,208]
];

// 0.85 to 1.15 Msun, a few days to 30 d
const tailMid = [
  [.888,27.6],[.927,26.3],[.935,24.5],[.946,24.5],[.958,23.4],[.983,25.1],[1.031,25.3],[1.041,26.3],
  [1.035,23.4],[1.034,28.7],[1.047,28.4],[1.055,30.8],[.941,30.8],[.917,28.7],[.911,26.9],[.919,30.1],
  [.853,27.6],[.857,25.1],[.826,25.7],[.857,22.4],[.888,20.9],[.902,22.7],[.911,22.4],[.927,19.9],
  [.935,18.2],[.911,19.2],[.910,17.8],[.946,17.8],[.931,17.4],[1.0,17.4],[1.01,17.6],[1.021,17.3],
  [1.034,17.4],[1.043,15.2],[.973,14.8],[.985,14.8],[.997,14.2],[.993,13.5],[1.004,13.2],[.973,12.6],
  [.962,12.6],[.983,11.8],[1.0,12.3],[1.013,12.6],[1.028,10.7],[1.035,11.0],[1.012,10.3],[.997,9.6],
  [.985,10.1],[.977,11.0],[.966,11.2],[.95,11.8],[.942,11.2],[.935,10.5],[.928,10.3],[.966,10.3],
  [.946,9.8],[.954,9.2],[.966,9.2],[.977,9.4],[1.008,9.2],[1.02,9.0],[1.008,8.4],[.989,8.3],[.977,8.4],
  [.966,8.4],[.954,8.1],[.942,8.1],[.997,7.8],[1.008,7.3],[1.028,7.6],[1.043,7.4],[1.035,8.4],[1.059,8.6],
  [1.059,7.0],[1.066,7.4],[1.074,7.1],[1.082,7.4],[1.086,8.1],[1.074,8.4],[1.043,6.7],[1.055,6.5],
  [1.066,6.3],[1.078,6.1],[1.082,5.7],[1.066,5.6],[1.055,5.7],[1.043,5.8],[1.043,5.4],[1.028,5.2],
  [1.018,5.3],[1.004,5.3],[1.0,5.5],[.985,5.4],[.973,5.3],[.966,5.2],[.958,5.8],[.95,5.8],[.938,6.1],
  [.927,6.0],[.915,5.8],[.903,5.4],[.946,7.1],[.935,6.8],[.923,7.1],[.911,7.4],[.896,7.8],[.888,7.0],
  [.88,6.7],[.892,6.3],[.907,6.4],[.919,6.5],[.888,8.1],[.903,8.6],[.911,9.2],[.919,9.6],[.900,10.1],[.888,10.7],
  [.902,2.1],[.903,1.61],[.871,2.1],[.866,2.12],[.857,2.4],[.862,2.43],[.853,2.36],[.888,2.52],[.876,2.64],
  [.910,2.8],[.894,2.5],[.917,3.3],[.941,3.2],[.954,2.8],[.942,2.4],[.948,2.54],[.969,2.14],[.979,2.22],
  [.991,2.1],[.997,2.0],[.991,2.55],[.990,2.8],[.985,3.1],[.994,3.3],[1.007,2.8],[1.017,3.0],[1.02,2.15],
  [1.036,2.48],[1.041,2.6],[1.045,2.66],[1.057,3.1],[1.054,2.96],[1.069,2.85],[1.097,2.85],[1.102,2.4],
  [1.105,2.25],[1.136,2.65],[1.145,2.4],[1.141,2.47],[1.168,2.8],[1.206,2.65],[.873,3.6],[.81,3.7],
  [.814,3.5],[.81,3.2],[.814,2.45],[.826,2.26],[.817,1.9],[.834,1.9],[.859,3.1],[.857,3.0],[.835,4.3],
  [.832,4.4],[.832,4.7],[.84,5.0],[.824,5.0],[.81,5.1],[.865,5.2],[.901,3.9],[.942,3.9],[.948,3.85],
  [.966,3.7],[.966,4.2],[.983,3.3],[.993,3.2],[1.003,3.0],[.986,2.95],[.986,2.8],[.992,2.5],[1.003,3.9],
  [1.011,3.85],[1.02,3.7],[1.014,4.0],[1.018,4.2],[1.024,4.4],[1.029,4.2],[1.035,4.0],[1.03,4.6],
  [1.046,4.0],[1.054,3.7],[1.059,3.8],[1.078,3.5],[1.097,3.7],[1.107,3.6],[1.111,3.4],[1.128,4.0],
  [1.135,3.85],[1.144,4.05]
];

// sparse points above ~28 d at the high-mass side
const tailUpper = [
  [1.239,786],[1.200,723],[.959,637],[1.091,658],[1.059,600],[1.119,614],[1.017,498],[1.041,491],[1.058,510],
  [.921,534],[.897,517],[.894,484],[.902,451],[.931,468],[.958,455],[.968,434],[.986,415],[.956,392],
  [.945,383],[.930,371],[.897,392],[.883,426],[.862,470],[.852,447],[.852,417],[.845,455],[.896,313],
  [.931,265],[.955,300],[.973,305],[1.000,316],[1.124,407],[1.131,371],[1.262,325],[1.269,325],[1.192,279],
  [1.031,250],[.980,238],[.997,225],[.884,255],[.865,246],[.860,221],[.896,205],[.999,195],[1.021,192],
  [.954,186],[.922,175],[.919,178],[.886,172],[.880,169],[.968,169],[.996,171],[1.067,182],[1.168,181],
  [1.138,161],[1.042,156],[1.083,152],[.943,157],[.966,142],[.975,127],[.907,139],[.877,150],[.922,120],
  [.941,116],[1.054,126],[1.088,124],[1.107,128],[1.185,106],[.894,103],[1.019,97],[1.009,89],[1.010,84],
  [.996,79],[.984,82],[.957,84],[.958,75],[.974,74],[1.006,72],[1.020,70],[1.073,64],[1.399,75],[1.242,62],
  [1.374,56],[.954,63],[.960,61],[1.007,61],[.947,56],[.956,55],[.986,57],[.989,54],[1.031,52],[.965,47],
  [.961,42],[.980,39],[.984,35],[1.017,37],[1.031,42],[1.045,36],[1.055,33],[1.055,31],[1.028,31],[1.042,28],
  [1.080,44],[1.100,44],[1.102,42],[1.135,43],[1.107,38],[1.121,36],[1.128,35],[1.201,43],[1.217,29],
  [1.263,31],[1.356,39],[1.359,32],[.914,46],[.920,43],[.896,45],[.872,68],[.892,69],[.897,69],[.881,54],
  [.893,53],[.906,38],[.897,36],[.941,31],[.956,31],[.923,30],[.920,28],[.938,28],[.871,42],[.856,40],
  [.865,36],[.828,42]
];

// the band at 3-30 d reaching the right edge, plus low-period stragglers
const tailRight = [
  [1.217,29.4],[1.264,30.8],[1.359,31.5],[1.193,22.6],[1.128,20.0],[1.179,19.9],[1.117,17.4],[1.083,24.0],
  [1.335,21.3],[1.300,17.9],[1.207,15.5],[1.267,15.5],[1.191,13.7],[1.141,13.1],[1.089,14.4],[1.080,13.1],
  [1.101,12.0],[1.104,11.8],[1.160,12.2],[1.166,11.4],[1.216,11.7],[1.297,13.5],[1.297,12.4],[1.327,13.6],
  [1.335,13.7],[1.347,11.4],[1.355,10.5],[1.389,11.9],[1.410,12.7],[1.417,14.0],[1.388,9.8],[1.300,10.4],
  [1.236,9.6],[1.198,10.0],[1.195,9.6],[1.177,10.6],[1.161,10.0],[1.160,9.7],[1.149,9.2],[1.118,9.0],
  [1.145,8.7],[1.166,8.4],[1.183,9.3],[1.198,8.7],[1.218,8.8],[1.190,7.7],[1.193,7.9],[1.174,8.2],
  [1.124,8.0],[1.107,10.3],[1.109,10.0],[1.097,9.2],[1.086,9.2],[1.074,9.2],[1.053,9.0],[1.061,7.9],
  [1.076,7.8],[1.087,7.7],[1.138,7.0],[1.154,6.5],[1.164,6.9],[1.184,6.2],[1.173,5.8],[1.164,5.6],
  [1.221,6.5],[1.234,6.0],[1.222,5.9],[1.252,8.0],[1.259,7.7],[1.273,8.2],[1.266,7.7],[1.297,9.0],
  [1.307,9.3],[1.324,8.3],[1.350,8.4],[1.357,7.7],[1.340,7.4],[1.317,6.9],[1.307,6.6],[1.297,7.2],
  [1.314,6.4],[1.397,8.1],[1.392,7.7],[1.396,6.2],[1.384,5.9],[1.385,5.7],[1.356,6.1],[1.366,5.7],
  [1.341,5.6],[1.331,5.5],[1.327,5.3],[1.319,5.3],[1.296,5.0],[1.286,5.6],[1.276,5.3],[1.239,4.7],
  [1.241,4.4],[1.222,4.6],[1.213,4.6],[1.211,4.3],[1.200,4.1],[1.204,5.4],[1.189,5.2],[1.176,5.0],
  [1.176,4.7],[1.179,4.5],[1.195,4.1],[1.192,3.8],[1.183,3.8],[1.163,4.0],[1.146,4.0],[1.138,3.95],
  [1.131,3.9],[1.125,3.5],[1.115,3.45],[1.109,3.2],[1.119,3.6],[1.105,3.7],[1.098,3.9],[1.103,4.5],
  [1.119,4.5],[1.099,5.0],[1.103,5.2],[1.090,5.5],[1.105,5.8],[1.097,6.4],[1.122,6.0],[1.128,6.1],
  [1.113,5.6],[1.160,4.0],[1.172,3.85],[1.176,3.5],[1.193,3.2],[1.208,2.9],[1.204,2.7],[1.233,2.9],
  [1.217,3.8],[1.211,3.85],[1.224,3.8],[1.241,3.8],[1.253,3.9],[1.274,3.6],[1.277,3.9],[1.298,3.2],
  [1.271,3.0],[1.259,2.8],[1.271,2.8],[1.290,2.8],[1.290,2.65],[1.322,2.9],[1.330,3.2],[1.331,3.4],
  [1.337,3.1],[1.352,3.3],[1.324,3.7],[1.320,3.75],[1.346,3.9],[1.361,3.9],[1.365,3.7],[1.369,3.6],
  [1.387,4.0],[1.394,4.2],[1.396,3.9],[1.396,3.6],[1.397,4.6],[1.382,3.6],[1.373,4.9],[1.386,4.75],
  [1.345,4.9],[1.282,1.86],[1.268,1.37],[1.152,1.79],[1.175,1.45],[1.162,1.03],[1.058,1.52],[1.038,1.04],
  [1.057,0.82],[1.060,0.72],[1.060,0.66],[1.020,1.39],[.993,1.75],[.975,1.57],[.973,1.85],[.954,1.31],
  [.942,1.39],[.951,1.48],[.965,0.88],[.963,0.86],[.932,0.83],[.925,1.17],[.904,1.61],[.892,1.74],
  [.891,1.7],[.863,1.48],[.858,1.07],[.862,0.85],[.838,1.31],[.822,1.23],[.838,0.71],[.814,0.72],
  [.810,1.36],[.841,1.63],[.832,1.9],[.826,1.87],[.818,1.72],[.954,0.63],[.931,0.78],[.955,0.58],
  [.960,0.84],[.962,0.82],[1.038,1.02],[1.063,0.78],[1.065,0.68],[1.065,0.62],[1.162,1.02],[.925,1.18],
  [.848,1.22],[.858,1.05],[.863,0.80],[.812,0.68],[.827,0.67],
  [.811,5.0],[.831,5.24],[.831,4.3],[.811,3.8],[.824,2.2],[.831,1.9],[.815,1.85],[.827,1.7],[.812,1.33],
  [.823,1.2],[.831,1.3],[.803,1.24],[.803,0.88],[.813,0.72],[.831,0.71]
];

// scattered points under the bottom of the CO region
const lowStragglers = [
  [.536,0.59],[.552,0.63],[.565,0.51],[.590,0.59],[.610,0.55],[.616,0.49],[.633,0.65],[.648,0.57],
  [.656,0.51],[.669,0.48],[.676,0.54],[.693,0.54],[.710,0.56],[.718,0.53],[.726,0.47],[.734,0.42],
  [.752,0.49],[.783,0.47],[.542,0.37],[.660,0.36],[.524,1.04],[.544,0.33],[.659,0.31],[.735,0.37],
  [.782,0.42],[.550,0.46],[.566,0.45],[.590,0.45],[.620,0.45],[.670,0.45],[.690,0.45],[.758,0.42],[.748,0.45]
];

// the required system: M_WD = 0.60 +- 0.09, P = 640 d
const requiredMass = 0.6;
const requiredMassErr = 0.09;
const requiredPeriod = 640;

const xTickValues = [0.3, 0.5, 0.7, 0.9, 1.1, 1.3];
const yTickValues = [1, 10, 100, 1000];

const plot = { left: 116, right: 675, top: 11, bottom: 662 };
const blue = '#4169e1';
const grey = '#666666';

const svg = d3.select('#chart');

const x = d3.scaleLinear().domain([0.15, 1.45]).range([plot.left, plot.right]);
const y = d3.scaleLog().domain([0.3, 2750]).range([plot.bottom, plot.top]);

const allPoints = [].concat(heBand, coreLeft, coreUpper, coreMid, stripe77, coreRight,
  upperArm, tailMid, tailUpper, tailRight, lowStragglers);

svg.append('g')
  .selectAll('circle')
  .data(allPoints)
  .join('circle')
  .attr('cx', d => x(d[0]))
  .attr('cy', d => y(d[1]))
  .attr('r', 2.05)
  .attr('fill', 'none')
  .attr('stroke', grey)
  .attr('stroke-width', 1.6);

// axes, all ticks pointing inwards
const minorY = y.ticks().filter(v => !yTickValues.includes(v));

function styleAxis(g) {
  g.select('.domain').remove();
  g.selectAll('line').attr('stroke', '#000').attr('stroke-width', 1.3);
  g.selectAll('text').attr('font-size', 33).attr('fill', '#000')
    .attr('font-family', '"Liberation Serif", serif');
}

svg.append('g')
  .attr('transform', `translate(0,${plot.bottom})`)
  .call(d3.axisBottom(x).tickValues(xTickValues).tickSize(-20).tickFormat(d3.format('.1f')))
  .call(styleAxis)
  .call(g => g.selectAll('text').attr('y', 33).attr('dy', null));

svg.append('g')
  .attr('transform', `translate(0,${plot.top})`)
  .call(d3.axisTop(x).tickValues(xTickValues).tickSize(-20).tickFormat(''))
  .call(styleAxis);

svg.append('g')
  .attr('transform', `translate(${plot.left},0)`)
  .call(d3.axisLeft(y).tickValues(yTickValues).tickSize(-20).tickPadding(9).tickFormat(d3.format('d')))
  .call(styleAxis)
  .call(g => g.selectAll('text').attr('dy', '0.33em'));

svg.append('g')
  .attr('transform', `translate(${plot.left},0)`)
  .call(d3.axisLeft(y).tickValues(minorY).tickSize(-11).tickFormat(''))
  .call(styleAxis);

svg.append('g')
  .attr('transform', `translate(${plot.right},0)`)
  .call(d3.axisRight(y).tickValues(yTickValues).tickSize(-20).tickFormat(''))
  .call(styleAxis);

svg.append('g')
  .attr('transform', `translate(${plot.right},0)`)
  .call(d3.axisRight(y).tickValues(minorY).tickSize(-11).tickFormat(''))
  .call(styleAxis);

svg.append('rect')
  .attr('x', plot.left).attr('y', plot.top)
  .attr('width', plot.right - plot.left).attr('height', plot.bottom - plot.top)
  .attr('fill', 'none').attr('stroke', '#000').attr('stroke-width', 1.6);

// required system with its error bar
const ry = y(requiredPeriod);
const eb = svg.append('g').attr('stroke', blue).attr('stroke-width', 2.2);
eb.append('line')
  .attr('x1', x(requiredMass - requiredMassErr)).attr('x2', x(requiredMass + requiredMassErr))
  .attr('y1', ry).attr('y2', ry);
[requiredMass - requiredMassErr, requiredMass + requiredMassErr].forEach(m => {
  eb.append('line').attr('x1', x(m)).attr('x2', x(m)).attr('y1', ry - 7.5).attr('y2', ry + 7.5);
});

svg.append('path')
  .attr('d', d3.symbol(d3.symbolStar).size(235)())
  .attr('transform', `translate(${x(requiredMass)},${ry})`)
  .attr('fill', '#00ffff')
  .attr('stroke', blue)
  .attr('stroke-width', 1.6);

// arrow from the label to the star
const tail = [x(0.45), y(327)], head = [x(0.55), y(484)];
const ang = Math.atan2(head[1] - tail[1], head[0] - tail[0]);
const hl = 14, spread = 0.45;
svg.append('line')
  .attr('x1', tail[0]).attr('y1', tail[1]).attr('x2', head[0]).attr('y2', head[1])
  .attr('stroke', blue).attr('stroke-width', 1.8);
svg.append('path')
  .attr('d', `M${head[0] - hl * Math.cos(ang - spread)},${head[1] - hl * Math.sin(ang - spread)}`
    + `L${head[0]},${head[1]}`
    + `L${head[0] - hl * Math.cos(ang + spread)},${head[1] - hl * Math.sin(ang + spread)}`)
  .attr('fill', 'none').attr('stroke', blue).attr('stroke-width', 1.8);

svg.append('text')
  .attr('x', 143).attr('y', 197)
  .attr('font-size', 37).attr('fill', blue)
  .text('required');

// title
const title = svg.append('text')
  .attr('x', (plot.left + plot.right) / 2 + 1).attr('y', 69)
  .attr('text-anchor', 'middle').attr('font-size', 38);
title.append('tspan').text('BSE code with ');
title.append('tspan').attr('font-style', 'italic').text('α');
title.append('tspan').attr('font-size', 27).attr('dy', 7).text('CE');
title.append('tspan').attr('dy', -7).text(' = 1.0');

// x label
const xl = svg.append('text')
  .attr('x', (plot.left + plot.right) / 2).attr('y', 733)
  .attr('text-anchor', 'middle').attr('font-size', 40);
xl.append('tspan').attr('font-style', 'italic').text('M');
xl.append('tspan').attr('font-size', 27).attr('dy', 6).text('WD');
xl.append('tspan').attr('dy', -6).text('\u2009(\u2009M');
xl.append('tspan').attr('font-size', 22).attr('dy', 6).attr('font-family', '"DejaVu Serif", serif').text('\u2299');
xl.append('tspan').attr('dy', -6).text('\u2009)');

// y label
const yl = svg.append('text')
  .attr('transform', `translate(44,${(plot.top + plot.bottom) / 2}) rotate(-90)`)
  .attr('text-anchor', 'middle').attr('font-size', 39);
yl.append('tspan').text('initial post-CE ');
yl.append('tspan').attr('font-style', 'italic').text('P');
yl.append('tspan').attr('font-size', 27).attr('dy', 7).text('orb');
yl.append('tspan').attr('dy', -7).text('\u2009(\u2009d\u2009)');
</script>
</body>
</html>
